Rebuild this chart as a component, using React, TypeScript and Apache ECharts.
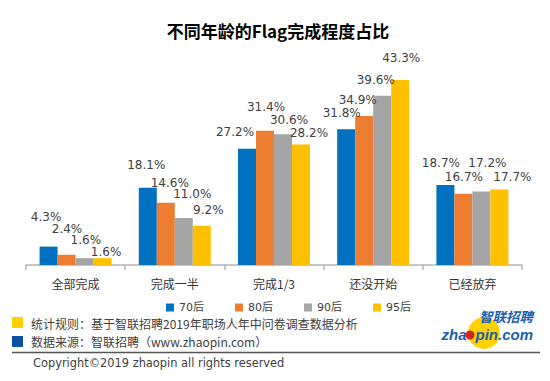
import React, { useEffect, useRef } from "react";
import * as echarts from "echarts";

const categories = ["全部完成", "完成一半", "完成1/3", "还没开始", "已经放弃"];
const seriesNames = ["70后", "80后", "90后", "95后"];
const values70 = [4.3, 18.1, 27.2, 31.8, 18.7];
const values80 = [2.4, 14.6, 31.4, 34.9, 16.7];
const values90 = [1.6, 11.0, 30.6, 39.6, 17.2];
const values95 = [1.6, 9.2, 28.2, 43.3, 17.7];
const seriesValues = [values70, values80, values90, values95];
const colors = ["#0070c0", "#ed7d31", "#a5a5a5", "#ffc000"];

// label nudges [dx, rise above bar top] as placed in the source chart
const labelNudges = [
  [[-2.5, 30], [-1.5, 22.5], [-12, 17], [-4.5, 16], [-4.5, 22]],
  [[0.4, 26.2], [4, 20], [1, 23.5], [-6.5, 16], [0.5, 16.7]],
  [[1.2, 17.7], [8.5, 24], [6, 14], [-6.5, 16], [6, 28.5]],
  [[3.5, 6.2], [6.5, 16], [8, 12], [1, 22.5], [13, 12.4]],
];

const titleText = "不同年龄的Flag完成程度占比";
const note1 = "统计规则：基于智联招聘2019年职场人年中问卷调查数据分析";
const note2 = "数据来源：智联招聘（www.zhaopin.com）";
const copyright = "Copyright©2019 zhaopin all rights reserved";

const CJK = "'Noto Sans CJK SC', 'Microsoft YaHei', sans-serif";
const LATIN = "'DejaVu Sans', 'Noto Sans CJK SC', sans-serif";
const LOGO_LATIN = "'Liberation Sans', Arial, sans-serif";

export default function App() {
  const ref = useRef<HTMLDivElement>(null);
  useEffect(() => {
    if (!ref.current) return;
    const chart = echarts.init(ref.current, null, { renderer: "svg" });
    chart.setOption({
      animation: false,
      backgroundColor: "#ffffff",
      grid: { left: 26, right: 28, top: 51.4, bottom: 116, containLabel: false },
      legend: {
        data: seriesNames,
        left: 161,
        top: 297,
        icon: "rect",
        itemWidth: 8,
        itemHeight: 8,
        itemGap: 31,
        textStyle: { fontSize: 11, color: "#404040", fontFamily: LATIN },
      },
      xAxis: {
        type: "category",
        data: categories,
        axisLine: { lineStyle: { color: "#b4b4b4", width: 1.5 } },
        axisTick: { show: true, length: 5, lineStyle: { color: "#b4b4b4", width: 1.5 } },
        axisLabel: { fontSize: 12, color: "#333", margin: 12, fontFamily: CJK },
      },
      yAxis: {
        type: "value",
        min: 0,
        max: 50,
        show: false,
        splitLine: { show: false },
      },
      series: seriesNames.map((name, i) => ({
        name,
        type: "bar",
        barWidth: 18,
        barGap: "0%",
        itemStyle: { color: colors[i] },
        label: {
          show: true,
          position: "top",
          distance: 0,
          verticalAlign: "middle",
          fontSize: 12,
          color: "#404040",
          fontFamily: LATIN,
          formatter: (p: any) => Number(p.value).toFixed(1) + "%",
        },
        data: seriesValues[i].map((v, j) => ({
          value: v,
          label: { offset: [labelNudges[i][j][0], -labelNudges[i][j][1]] },
        })),
      })),
      graphic: [
        {
          type: "text",
          x: 278,
          y: 30.5,
          style: {
            text: titleText,
            fontSize: 17,
            fontWeight: "bold",
            fontFamily: CJK,
            fill: "#000",
            align: "center",
            verticalAlign: "middle",
          },
        },
        { type: "rect", shape: { x: 12, y: 317, width: 11, height: 11 }, style: { fill: "#ffd100" } },
        {
          type: "text",
          x: 31,
          y: 323,
          style: { text: note1, fontSize: 12, fontFamily: CJK, fill: "#404040", verticalAlign: "middle" },
        },
        { type: "rect", shape: { x: 12, y: 336, width: 11, height: 11 }, style: { fill: "#0d4fa3" } },
        {
          type: "text",
          x: 31,
          y: 341.7,
          style: { text: note2, fontSize: 12, fontFamily: CJK, fill: "#404040", verticalAlign: "middle" },
        },
        {
          type: "line",
          shape: { x1: 12, y1: 352.5, x2: 540, y2: 352.5 },
          style: { stroke: "#555", lineWidth: 1.5 },
        },
        {
          type: "text",
          x: 33,
          y: 363,
          style: { text: copyright, fontSize: 11.4, fontFamily: LATIN, fill: "#404040", verticalAlign: "middle" },
        },
        { type: "circle", shape: { cx: 484, cy: 333, r: 16 }, style: { fill: "#ffd200" } },
        {
          type: "text",
          x: 533,
          y: 308,
          style: {
            text: "{a|智联招聘}\n{b|zha}{g|}{b|pin.com}",
            align: "right",
            verticalAlign: "top",
            fill: "#1c5fb0",
            rich: {
              a: {
                fontSize: 13.5,
                fontWeight: "bold",
                fontStyle: "italic",
                fontFamily: CJK,
                fill: "#1c5fb0",
                lineHeight: 15,
              },
              b: {
                fontSize: 15,
                fontWeight: "bold",
                fontStyle: "italic",
                fontFamily: LOGO_LATIN,
                fill: "#1c5fb0",
                lineHeight: 23,
              },
              g: { width: 9, lineHeight: 23 },
            },
          },
        },
        { type: "circle", shape: { cx: 470, cy: 335, r: 4.5 }, style: { fill: "#d7261e" } },
      ],
    });
    return () => chart.dispose();
  }, []);
  return (
    <div
      ref={ref}
      style={{ position: "absolute", left: 0, top: 0, width: 550, height: 381, background: "#fff" }}
    />
  );
}
